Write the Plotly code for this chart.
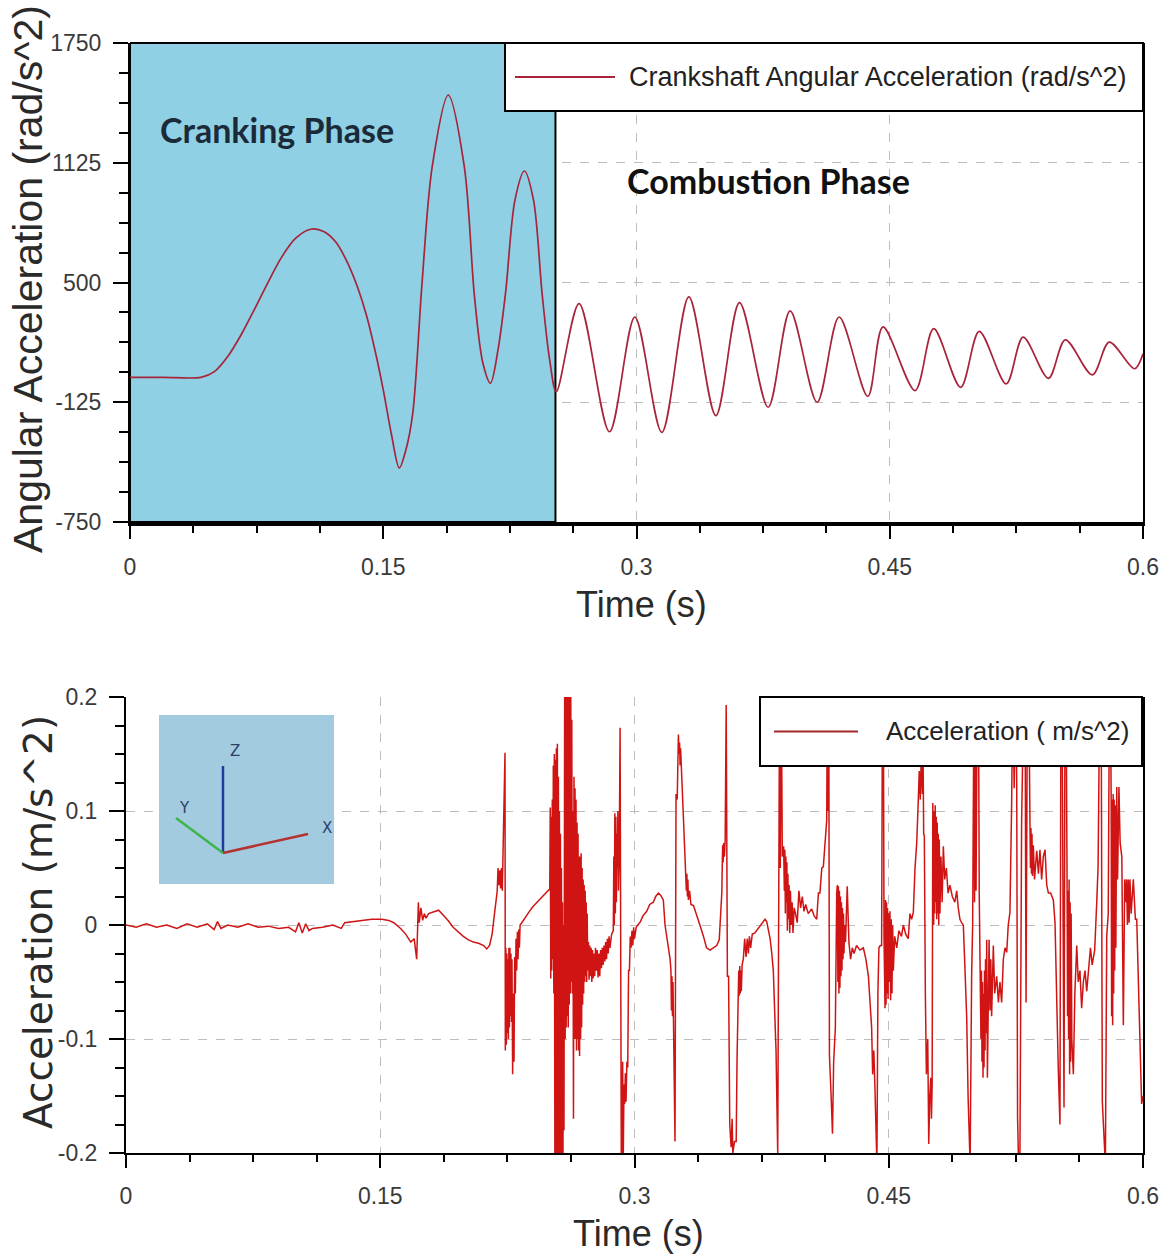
import plotly.graph_objects as go

W, H = 1173, 1257

# ---------------- top chart data (crankshaft angular acceleration) ----------------
crank_time = [0.000, 0.020, 0.042, 0.050, 0.058, 0.066, 0.074, 0.082, 0.090, 0.098,
              0.107, 0.115, 0.122, 0.129, 0.135, 0.140, 0.145, 0.150, 0.155, 0.1595,
              0.1635, 0.1675, 0.173, 0.179, 0.1885, 0.198, 0.204, 0.209, 0.2135, 0.218,
              0.2225, 0.228, 0.2336, 0.239, 0.244, 0.2485, 0.2525,
              0.266, 0.284, 0.299, 0.315, 0.331, 0.347, 0.361, 0.378, 0.391, 0.407,
              0.420, 0.437, 0.446, 0.465, 0.476, 0.492, 0.503, 0.519, 0.529, 0.544,
              0.554, 0.570, 0.580, 0.595, 0.600]
crank_acc = [5, 5, 5, 35, 115, 230, 365, 505, 635, 730,
             778, 765, 710, 600, 470, 330, 150, -60, -300, -468,
             -370, -180, 500, 1105, 1478, 1105, 430, 80, -25, 150,
             450, 930, 1082, 930, 450, 100, -70,
             390, -279, 320, -282, 425, -195, 395, -151, 352, -125,
             320, -94, 268, -64, 259, -47, 245, -29, 215, 0,
             201, 18, 189, 50, 128]

crank_ticks = [-750, -125, 500, 1125, 1750]
time_ticks = [0, 0.15, 0.3, 0.45, 0.6]
time_ticktext = ["0", "0.15", "0.3", "0.45", "0.6"]
cranking_end = 0.252

# ---------------- bottom chart data (acceleration, m/s^2) ----------------
acc_quiet = [(0.000, 0.000), (0.006, -0.002), (0.012, 0.001), (0.018, -0.002), (0.024, 0.000),
             (0.030, -0.003), (0.036, 0.001), (0.042, -0.002), (0.048, 0.001), (0.052, -0.004),
             (0.054, 0.003), (0.056, -0.003), (0.060, 0.000), (0.066, -0.002), (0.072, 0.001),
             (0.078, -0.002), (0.084, -0.001), (0.090, -0.003), (0.096, -0.002), (0.100, -0.006),
             (0.102, 0.002), (0.104, -0.007), (0.106, 0.001), (0.108, -0.005), (0.110, -0.003),
             (0.116, -0.002), (0.122, 0.000), (0.127, -0.003), (0.129, 0.002), (0.134, 0.003),
             (0.140, 0.004)]

acc_onset = [(0.145, 0.005), (0.151, 0.005), (0.155, 0.004), (0.158, 0.002), (0.162, -0.003),
             (0.165, -0.008), (0.168, -0.015), (0.170, -0.012), (0.1715, -0.030), (0.1725, 0.020),
             (0.173, 0.002), (0.174, 0.015), (0.175, 0.004), (0.176, 0.010), (0.177, 0.006),
             (0.1785, 0.010), (0.181, 0.011), (0.1844, 0.013), (0.187, 0.009), (0.190, 0.004),
             (0.193, -0.002), (0.196, -0.006), (0.199, -0.010), (0.202, -0.013), (0.205, -0.015),
             (0.208, -0.016), (0.211, -0.018), (0.2128, -0.021), (0.2145, -0.018), (0.216, -0.008),
             (0.217, 0.005), (0.218, 0.018), (0.219, 0.030), (0.2195, 0.050), (0.2200, 0.035),
             (0.2205, 0.048), (0.2210, 0.032), (0.2215, 0.050), (0.2220, 0.030), (0.2236, 0.151),
             (0.2238, -0.110), (0.2241, -0.020), (0.2244, -0.105), (0.2247, -0.025), (0.2250, -0.095),
             (0.2253, -0.030), (0.2256, -0.100), (0.2259, -0.020), (0.2262, -0.090), (0.2265, -0.020),
             (0.2268, -0.080), (0.2271, -0.025), (0.2274, -0.085), (0.2277, -0.030), (0.2281, -0.131),
             (0.2285, -0.060), (0.2289, -0.120), (0.2293, -0.028), (0.2297, -0.060), (0.2301, -0.012),
             (0.2305, -0.040), (0.2309, -0.006), (0.2313, -0.030), (0.2317, -0.004), (0.2321, -0.020),
             (0.2325, 0.000), (0.2335, 0.002), (0.2355, 0.007), (0.2380, 0.012), (0.2400, 0.016),
             (0.2425, 0.020), (0.2450, 0.024), (0.2475, 0.028), (0.2495, 0.031)]

acc_burst1 = [(0.2500, 0.031), (0.2503, 0.103), (0.2506, -0.047), (0.2509, 0.095), (0.2512, -0.040),
              (0.2515, 0.110), (0.2518, -0.030), (0.2521, 0.140), (0.2524, -0.060), (0.2527, 0.150),
              (0.2530, -0.200), (0.2533, 0.145), (0.2536, -0.205), (0.2539, 0.155), (0.2542, -0.205),
              (0.2545, 0.159), (0.2548, -0.210), (0.2551, 0.130), (0.2554, -0.210), (0.2557, 0.100),
              (0.2560, -0.210), (0.2563, 0.080), (0.2566, -0.205), (0.2569, 0.050), (0.2572, -0.210),
              (0.2575, 0.020), (0.2578, -0.205), (0.2581, 0.000), (0.2584, -0.180), (0.2588, 0.210),
              (0.2591, -0.100), (0.2594, 0.210), (0.2597, -0.090), (0.2600, 0.210), (0.2603, -0.080),
              (0.2606, 0.210), (0.2609, -0.090), (0.2612, 0.210), (0.2615, -0.070), (0.2618, 0.210),
              (0.2621, -0.060), (0.2624, 0.210), (0.2627, -0.050), (0.2630, 0.180), (0.2633, -0.060),
              (0.2636, 0.100), (0.2640, -0.170), (0.2643, 0.130), (0.2646, -0.100), (0.2649, 0.120),
              (0.2652, -0.100), (0.2655, 0.110), (0.2658, -0.110), (0.2661, 0.090), (0.2664, -0.100),
              (0.2667, 0.080), (0.2670, -0.110), (0.2673, 0.060), (0.2676, -0.115), (0.2679, 0.060),
              (0.2682, -0.100), (0.2685, 0.063), (0.2688, -0.090), (0.2691, 0.050), (0.2694, -0.070),
              (0.2697, 0.040), (0.2700, -0.060), (0.2703, 0.035), (0.2706, -0.050), (0.2709, 0.030),
              (0.2712, -0.045), (0.2715, 0.020), (0.2718, -0.050), (0.2721, 0.010), (0.2724, -0.040)]

acc_cycle2 = [(0.2728, -0.015), (0.2732, -0.048), (0.2736, -0.018), (0.2740, -0.045), (0.2744, -0.020),
              (0.2748, -0.050), (0.2752, -0.022), (0.2756, -0.047), (0.2760, -0.025), (0.2765, -0.045),
              (0.2770, -0.020), (0.2775, -0.040), (0.2780, -0.022), (0.2785, -0.046), (0.2790, -0.025),
              (0.2795, -0.045), (0.2800, -0.022), (0.2805, -0.038), (0.2810, -0.020), (0.2815, -0.035),
              (0.2820, -0.018), (0.2825, -0.032), (0.2830, -0.015), (0.2835, -0.030), (0.2840, -0.012),
              (0.2845, -0.025), (0.2850, -0.010), (0.2855, -0.020), (0.2865, -0.008), (0.2875, -0.005),
              (0.2878, 0.060), (0.2881, 0.000), (0.2884, 0.098), (0.2887, 0.010), (0.2890, 0.095),
              (0.2893, 0.020), (0.2896, 0.080), (0.2899, 0.050), (0.2902, 0.100), (0.2905, 0.030),
              (0.2910, 0.060), (0.2915, 0.173), (0.2918, -0.020), (0.2922, -0.200), (0.2926, -0.210),
              (0.2930, -0.120), (0.2934, -0.200), (0.2938, -0.140), (0.2942, -0.157), (0.2946, -0.130),
              (0.2950, -0.155), (0.2955, -0.120), (0.2960, -0.125), (0.2965, -0.040), (0.2970, -0.040),
              (0.2975, -0.010), (0.2980, -0.020), (0.2985, -0.005), (0.2990, -0.018), (0.2995, -0.002),
              (0.3000, -0.012), (0.3010, -0.002), (0.3020, 0.000), (0.3035, 0.003), (0.3050, 0.008),
              (0.3072, 0.012), (0.3090, 0.018), (0.3111, 0.020), (0.3125, 0.025), (0.3141, 0.028),
              (0.3155, 0.026), (0.3170, 0.022), (0.3180, 0.000), (0.3190, -0.010), (0.3200, -0.020),
              (0.3210, -0.030), (0.3215, -0.040), (0.3218, -0.075), (0.3221, -0.045), (0.3224, -0.080),
              (0.3227, -0.050), (0.3230, -0.082), (0.3239, -0.190), (0.3245, 0.115), (0.3252, 0.110),
              (0.3259, 0.167), (0.3263, 0.150), (0.3266, 0.160), (0.3269, 0.140), (0.3272, 0.155),
              (0.3276, 0.140), (0.3280, 0.130), (0.3285, 0.110), (0.3292, 0.090), (0.3298, 0.051),
              (0.3303, 0.045), (0.3306, 0.030), (0.3309, 0.045), (0.3312, 0.025), (0.3315, 0.040),
              (0.3318, 0.022), (0.3325, 0.030), (0.3333, 0.018), (0.3348, 0.017), (0.3360, 0.012),
              (0.3377, 0.005), (0.3390, -0.002), (0.3407, -0.010), (0.3425, -0.020), (0.3446, -0.022),
              (0.3465, -0.020), (0.3485, -0.018), (0.3500, -0.013), (0.3515, 0.028), (0.3520, 0.070),
              (0.3523, 0.055), (0.3526, 0.072), (0.3530, 0.060), (0.3535, 0.075), (0.3541, 0.193),
              (0.3548, -0.045), (0.3555, -0.045), (0.3562, -0.175), (0.3570, -0.195), (0.3576, -0.170),
              (0.3580, -0.200), (0.3590, -0.190)]

acc_cycle3 = [(0.3600, -0.190), (0.3605, -0.117), (0.3610, -0.060), (0.3615, -0.040), (0.3618, -0.062),
              (0.3621, -0.036), (0.3624, -0.060), (0.3627, -0.040), (0.3630, -0.058), (0.3635, -0.035),
              (0.3642, -0.030), (0.3650, -0.012), (0.3658, -0.028), (0.3665, -0.012), (0.3672, -0.025),
              (0.3678, -0.010), (0.3685, -0.020), (0.3695, -0.008), (0.3710, -0.007), (0.3725, -0.004),
              (0.3740, 0.000), (0.3755, 0.003), (0.3770, 0.005), (0.3780, 0.003), (0.3790, -0.005),
              (0.3800, -0.012), (0.3810, -0.025), (0.3819, -0.040), (0.3828, -0.080), (0.3835, -0.110),
              (0.3845, -0.200), (0.3850, 0.022), (0.3856, 0.210), (0.3860, 0.050), (0.3866, 0.210),
              (0.3872, 0.060), (0.3880, 0.069), (0.3884, 0.030), (0.3887, 0.066), (0.3890, 0.010),
              (0.3893, 0.060), (0.3896, 0.020), (0.3899, 0.055), (0.3902, -0.005), (0.3905, 0.045),
              (0.3908, 0.005), (0.3912, 0.035), (0.3916, -0.007), (0.3920, 0.030), (0.3925, 0.000),
              (0.3930, 0.020), (0.3935, -0.007), (0.3942, 0.015), (0.3950, 0.010), (0.3960, 0.002),
              (0.3970, 0.030), (0.3980, 0.015), (0.3990, 0.025), (0.4000, 0.012), (0.4010, 0.018),
              (0.4025, 0.010), (0.4045, 0.014), (0.4060, 0.008), (0.4075, 0.005), (0.4085, 0.028),
              (0.4094, 0.028), (0.4105, 0.050), (0.4114, 0.051), (0.4125, 0.080), (0.4134, 0.092),
              (0.4138, 0.210), (0.4142, 0.100), (0.4146, 0.210), (0.4150, -0.114), (0.4160, -0.150),
              (0.4168, -0.183), (0.4175, -0.120), (0.4185, -0.090), (0.4193, 0.028), (0.4197, 0.035),
              (0.4200, -0.050), (0.4203, 0.034), (0.4206, -0.060), (0.4209, 0.030), (0.4212, -0.055),
              (0.4215, 0.025), (0.4218, -0.045), (0.4221, 0.020), (0.4224, -0.040), (0.4227, 0.015),
              (0.4230, -0.030), (0.4233, 0.010), (0.4236, -0.025), (0.4240, 0.000), (0.4245, -0.015),
              (0.4255, 0.034), (0.4265, -0.015), (0.4275, -0.030), (0.4285, -0.020), (0.4295, -0.025),
              (0.4310, -0.018), (0.4330, -0.022), (0.4350, -0.020), (0.4365, -0.030), (0.4380, -0.045),
              (0.4390, -0.070), (0.4399, -0.090), (0.4405, -0.131), (0.4412, -0.110), (0.4418, -0.140),
              (0.4424, -0.200), (0.4430, -0.210), (0.4436, -0.060), (0.4442, -0.020), (0.4450, -0.018),
              (0.4458, -0.018), (0.4463, 0.210), (0.4468, 0.210), (0.4472, -0.010), (0.4478, -0.073),
              (0.4481, 0.022), (0.4484, -0.070), (0.4487, 0.020), (0.4490, -0.060), (0.4493, 0.015),
              (0.4496, -0.065), (0.4499, 0.010), (0.4503, -0.050), (0.4507, 0.012), (0.4511, -0.066),
              (0.4515, 0.005), (0.4519, -0.060), (0.4523, 0.000), (0.4527, -0.040), (0.4535, -0.010),
              (0.4547, -0.020), (0.4560, -0.005), (0.4575, -0.010), (0.4586, 0.000), (0.4600, -0.008),
              (0.4615, -0.012), (0.4625, 0.010), (0.4635, 0.005), (0.4645, 0.011), (0.4655, 0.050),
              (0.4665, 0.072), (0.4672, 0.100), (0.4680, 0.135), (0.4686, 0.110), (0.4692, 0.150),
              (0.4698, 0.115), (0.4702, 0.160), (0.4706, 0.080), (0.4710, 0.078), (0.4716, -0.060),
              (0.4722, -0.131), (0.4730, -0.100), (0.4736, -0.192), (0.4742, -0.150), (0.4748, -0.134),
              (0.4752, -0.170), (0.4756, -0.140)]

acc_cycle4 = [(0.4760, 0.107), (0.4765, 0.000), (0.4768, 0.100), (0.4771, 0.010), (0.4774, 0.105),
              (0.4777, 0.020), (0.4780, 0.095), (0.4783, 0.005), (0.4786, 0.090), (0.4789, 0.010),
              (0.4792, 0.080), (0.4795, 0.000), (0.4798, 0.075), (0.4802, 0.010), (0.4808, 0.060),
              (0.4815, 0.020), (0.4822, 0.069), (0.4830, 0.040), (0.4840, 0.050), (0.4850, 0.028),
              (0.4861, 0.035), (0.4875, 0.025), (0.4890, 0.020), (0.4901, 0.030), (0.4910, 0.015),
              (0.4920, 0.005), (0.4930, 0.002), (0.4940, 0.000), (0.4950, -0.040), (0.4960, -0.082),
              (0.4968, -0.150), (0.4975, -0.200), (0.4980, -0.210), (0.4989, -0.044), (0.4995, 0.000),
              (0.5003, 0.210), (0.5006, 0.020), (0.5009, 0.210), (0.5015, 0.030), (0.5022, 0.210),
              (0.5029, 0.210), (0.5034, 0.025), (0.5038, -0.060), (0.5041, -0.030), (0.5044, -0.100),
              (0.5047, -0.040), (0.5050, -0.120), (0.5053, -0.050), (0.5056, -0.134), (0.5059, -0.060),
              (0.5062, -0.125), (0.5065, -0.040), (0.5068, -0.110), (0.5071, -0.030), (0.5074, -0.095),
              (0.5078, -0.013), (0.5082, -0.134), (0.5088, -0.060), (0.5092, -0.013), (0.5097, -0.075),
              (0.5102, -0.030), (0.5107, -0.080), (0.5112, -0.040), (0.5117, -0.018), (0.5125, -0.060),
              (0.5137, -0.045), (0.5147, -0.068), (0.5156, -0.050), (0.5166, -0.068), (0.5176, -0.030),
              (0.5186, -0.020), (0.5196, -0.024), (0.5205, 0.000), (0.5215, 0.011), (0.5225, 0.106),
              (0.5232, 0.210), (0.5240, 0.120), (0.5248, 0.210), (0.5255, 0.126), (0.5260, -0.169),
              (0.5266, -0.210), (0.5274, -0.200), (0.5284, 0.092), (0.5290, 0.135), (0.5297, 0.210),
              (0.5304, 0.210), (0.5310, -0.068), (0.5318, 0.210), (0.5326, 0.210), (0.5333, 0.090),
              (0.5336, 0.050), (0.5339, 0.085), (0.5342, 0.045), (0.5345, 0.080), (0.5348, 0.043),
              (0.5353, 0.070), (0.5360, 0.040), (0.5373, 0.065), (0.5383, 0.045), (0.5392, 0.066),
              (0.5402, 0.040), (0.5412, 0.060), (0.5422, 0.066), (0.5432, 0.035), (0.5442, 0.028),
              (0.5455, 0.028), (0.5471, 0.022), (0.5481, 0.002), (0.5491, -0.070), (0.5500, -0.125),
              (0.5510, -0.175), (0.5516, 0.210), (0.5522, 0.210), (0.5528, 0.042), (0.5534, -0.160),
              (0.5540, 0.210), (0.5546, 0.210), (0.5552, 0.040), (0.5555, -0.080), (0.5558, 0.030),
              (0.5561, -0.100), (0.5564, 0.040), (0.5567, -0.131), (0.5570, 0.020), (0.5573, -0.120),
              (0.5576, 0.010), (0.5580, -0.100), (0.5589, -0.131), (0.5598, -0.060), (0.5609, -0.018),
              (0.5618, -0.050), (0.5628, -0.040), (0.5638, -0.073), (0.5648, -0.050), (0.5658, -0.040),
              (0.5668, -0.058), (0.5678, -0.040), (0.5690, -0.020), (0.5700, -0.035), (0.5715, -0.022),
              (0.5727, 0.020), (0.5735, 0.051), (0.5745, 0.210), (0.5753, 0.210), (0.5760, -0.155),
              (0.5770, -0.180), (0.5778, -0.210), (0.5786, -0.010), (0.5795, 0.010), (0.5802, 0.210),
              (0.5808, 0.210), (0.5812, 0.115), (0.5815, -0.080), (0.5818, 0.110), (0.5821, -0.088),
              (0.5824, 0.115), (0.5827, -0.060), (0.5830, 0.110), (0.5833, -0.040), (0.5836, 0.105),
              (0.5840, -0.020), (0.5845, 0.121), (0.5850, 0.040), (0.5858, 0.121), (0.5865, 0.072),
              (0.5875, 0.060), (0.5884, -0.088), (0.5892, 0.040), (0.5898, 0.020), (0.5903, 0.040),
              (0.5908, 0.000), (0.5913, 0.040), (0.5918, 0.002), (0.5923, 0.040), (0.5930, 0.010),
              (0.5943, 0.040), (0.5955, 0.005), (0.5963, 0.005), (0.5975, -0.068), (0.5985, -0.120),
              (0.5992, -0.157), (0.6000, -0.150)]

acc_ticks = [-0.2, -0.1, 0, 0.1, 0.2]
acc_ticktext = ["-0.2", "-0.1", "0", "0.1", "0.2"]

accel_points = acc_quiet + acc_onset + acc_burst1 + acc_cycle2 + acc_cycle3 + acc_cycle4
accel_time = [p[0] for p in accel_points]
accel_value = [p[1] for p in accel_points]

# ---------------- layout helpers ----------------
def px_x(x):
    return x / W

def px_y(y):
    return 1 - y / H

TOP = dict(l=130, r=1143, t=43, b=522)
BOT = dict(l=126, r=1143, t=697, b=1153)

TICKFONT = dict(family="Liberation Sans, Arial, sans-serif", size=23, color="#3a3a3a")
TITLE_FAMILY = "Liberation Sans, Arial, sans-serif"

fig = go.Figure()
fig.add_trace(go.Scatter(
    x=crank_time, y=crank_acc, mode="lines",
    line=dict(color="#A8243A", width=1.7, shape="spline", smoothing=0.9),
    name="Crankshaft Angular Acceleration (rad/s^2)", showlegend=False,
    xaxis="x", yaxis="y"))
fig.add_trace(go.Scatter(
    x=accel_time, y=accel_value, mode="lines",
    line=dict(color="#D01414", width=1.5),
    name="Acceleration (m/s^2)", showlegend=False,
    xaxis="x2", yaxis="y2"))

def xaxis_common(domain, anchor, lw):
    return dict(
        domain=domain, anchor=anchor, range=[0, 0.6], automargin=False,
        tickmode="array", tickvals=time_ticks, ticktext=time_ticktext,
        ticks="outside", ticklen=13, tickwidth=2, tickcolor="black",
        showline=True, linecolor="black", linewidth=lw, mirror=False,
        showgrid=True, gridcolor="#BDBDBD", griddash="dash", gridwidth=1,
        zeroline=False, tickfont=TICKFONT, ticklabelstandoff=8,
        minor=dict(ticks="outside", ticklen=7, tickwidth=2, tickcolor="black",
                   dtick=0.0375, tick0=0, showgrid=False),
    )

def yaxis_common(domain, anchor, rng, vals, texts, minor_dtick):
    return dict(
        domain=domain, anchor=anchor, range=rng, automargin=False,
        tickmode="array", tickvals=vals, ticktext=texts,
        ticks="outside", ticklen=15, tickwidth=2, tickcolor="black",
        showline=True, linecolor="black", linewidth=2, mirror=True,
        showgrid=True, gridcolor="#BDBDBD", griddash="dash", gridwidth=1,
        zeroline=False, tickfont=TICKFONT, ticklabelstandoff=7,
        minor=dict(ticks="outside", ticklen=9, tickwidth=2, tickcolor="black",
                   dtick=minor_dtick, tick0=rng[0], showgrid=False),
    )

fig.update_layout(
    width=W, height=H,
    margin=dict(l=0, r=0, t=0, b=0),
    paper_bgcolor="white", plot_bgcolor="white",
    showlegend=False,
    xaxis=xaxis_common([px_x(TOP["l"]), px_x(TOP["r"])], "y", 4),
    yaxis=yaxis_common([px_y(TOP["b"]), px_y(TOP["t"])], "x", [-750, 1750],
                       crank_ticks, [str(v) for v in crank_ticks], 156.25),
    xaxis2=xaxis_common([px_x(BOT["l"]), px_x(BOT["r"])], "y2", 2),
    yaxis2=yaxis_common([px_y(BOT["b"]), px_y(BOT["t"])], "x2", [-0.2, 0.2],
                        acc_ticks, acc_ticktext, 0.025),
)

shapes = []
# cranking phase shaded region
shapes.append(dict(type="rect", xref="x", yref="y", x0=0, x1=cranking_end, y0=-750, y1=1750,
                   fillcolor="#8FD0E4", line=dict(color="black", width=2), layer="between"))
# top border of upper plot
shapes.append(dict(type="line", xref="paper", yref="paper",
                   x0=px_x(TOP["l"]), x1=px_x(TOP["r"]), y0=px_y(TOP["t"]), y1=px_y(TOP["t"]),
                   line=dict(color="black", width=2), layer="above"))

# legend boxes (drawn as shapes + text)
def legend_box(x0, x1, y0, y1, lx0, lx1, color):
    shapes.append(dict(type="rect", xref="paper", yref="paper",
                       x0=px_x(x0), x1=px_x(x1), y0=px_y(y1), y1=px_y(y0),
                       fillcolor="white", line=dict(color="black", width=2), layer="above"))
    ym = (y0 + y1) / 2
    shapes.append(dict(type="line", xref="paper", yref="paper",
                       x0=px_x(lx0), x1=px_x(lx1), y0=px_y(ym), y1=px_y(ym),
                       line=dict(color=color, width=2), layer="above"))

legend_box(505, 1143, 43, 111, 515, 615, "#A8243A")
legend_box(760, 1142, 697, 766, 774, 858, "#A02828")

# inset coordinate-system picture
shapes.append(dict(type="rect", xref="paper", yref="paper",
                   x0=px_x(159), x1=px_x(334), y0=px_y(884), y1=px_y(715),
                   fillcolor="#A3CBDF", line=dict(width=0), layer="above"))
shapes.append(dict(type="line", xref="paper", yref="paper",
                   x0=px_x(223), x1=px_x(223), y0=px_y(853), y1=px_y(766),
                   line=dict(color="#1F3C9C", width=2.5), layer="above"))
shapes.append(dict(type="line", xref="paper", yref="paper",
                   x0=px_x(223), x1=px_x(176), y0=px_y(853), y1=px_y(818),
                   line=dict(color="#3DB54A", width=2.5), layer="above"))
shapes.append(dict(type="line", xref="paper", yref="paper",
                   x0=px_x(223), x1=px_x(308), y0=px_y(853), y1=px_y(834),
                   line=dict(color="#B43232", width=2.5), layer="above"))

annotations = [
    # axis titles
    dict(text="Angular Acceleration (rad/s^2)", x=px_x(28), y=px_y(279), textangle=-90,
         xref="paper", yref="paper", showarrow=False, xanchor="center", yanchor="middle",
         font=dict(family=TITLE_FAMILY, size=41, color="#2a2a2a")),
    dict(text="Time (s)", x=px_x(641), y=px_y(604), xref="paper", yref="paper",
         showarrow=False, xanchor="center", yanchor="middle",
         font=dict(family=TITLE_FAMILY, size=36, color="#2a2a2a")),
    dict(text="Acceleration (m/s^2)", x=px_x(38), y=px_y(922), textangle=-90,
         xref="paper", yref="paper", showarrow=False, xanchor="center", yanchor="middle",
         font=dict(family="DejaVu Sans, sans-serif", size=39, color="#2a2a2a")),
    dict(text="Time (s)", x=px_x(638), y=px_y(1233), xref="paper", yref="paper",
         showarrow=False, xanchor="center", yanchor="middle",
         font=dict(family=TITLE_FAMILY, size=36, color="#2a2a2a")),
    # phase labels
    dict(text="<b>Cranking Phase</b>", x=0.087, y=1296, xref="x", yref="y", showarrow=False,
         font=dict(family="Lato, sans-serif", size=34, color="#1B2A38")),
    dict(text="<b>Combustion Phase</b>", x=0.378, y=1030, xref="x", yref="y", showarrow=False,
         font=dict(family="Lato, sans-serif", size=34, color="#111111")),
    # legend texts
    dict(text="Crankshaft Angular Acceleration (rad/s^2)", x=px_x(627), y=px_y(77),
         xref="paper", yref="paper", xanchor="left", yanchor="middle", showarrow=False,
         font=dict(family=TITLE_FAMILY, size=27, color="#222222")),
    dict(text="Acceleration ( m/s^2)", x=px_x(884), y=px_y(731),
         xref="paper", yref="paper", xanchor="left", yanchor="middle", showarrow=False,
         font=dict(family=TITLE_FAMILY, size=26, color="#222222")),
    # inset axis letters
    dict(text="Z", x=px_x(228), y=px_y(751), xref="paper", yref="paper", showarrow=False,
         font=dict(family="DejaVu Sans, sans-serif", size=15, color="#2B3F6B")),
    dict(text="Y", x=px_x(177), y=px_y(808), xref="paper", yref="paper", showarrow=False,
         font=dict(family="DejaVu Sans, sans-serif", size=15, color="#2B3F6B")),
    dict(text="X", x=px_x(320), y=px_y(828), xref="paper", yref="paper", showarrow=False,
         font=dict(family="DejaVu Sans, sans-serif", size=15, color="#2B3F6B")),
]

fig.update_layout(shapes=shapes, annotations=annotations)
fig.write_html("out.html")
